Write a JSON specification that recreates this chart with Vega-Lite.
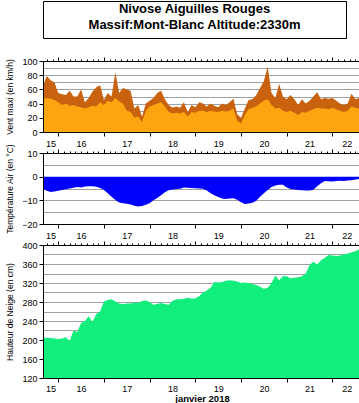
{
  "$schema": "https://vega.github.io/schema/vega-lite/v6.json",
  "background": "white",
  "padding": {"left": 5, "top": 0, "right": 0, "bottom": 0},
  "config": {
    "font": "Liberation Sans",
    "view": {"stroke": null},
    "axis": {
      "labelFont": "Liberation Sans", "labelFontSize": 9, "labelColor": "#000",
      "titleFont": "Liberation Sans", "titleFontSize": 8.5, "titleFontWeight": "normal", "titleColor": "#000",
      "domainColor": "#000", "tickColor": "#000", "gridColor": "#a0a0a0", "gridWidth": 1
    }
  },
  "datasets": {
    "d": [
      {"t": "2018-01-15T16:00", "wx": 65, "wm": 46, "ta": -5.1, "hn": 204},
      {"t": "2018-01-15T18:00", "wx": 79, "wm": 48, "ta": -6.0, "hn": 205},
      {"t": "2018-01-15T20:00", "wx": 73, "wm": 47, "ta": -6.5, "hn": 204},
      {"t": "2018-01-15T22:00", "wx": 70, "wm": 45, "ta": -6.3, "hn": 203},
      {"t": "2018-01-16T00:00", "wx": 55, "wm": 42, "ta": -6.0, "hn": 202},
      {"t": "2018-01-16T02:00", "wx": 53, "wm": 38, "ta": -5.6, "hn": 203},
      {"t": "2018-01-16T04:00", "wx": 52, "wm": 40, "ta": -5.3, "hn": 206},
      {"t": "2018-01-16T06:00", "wx": 58, "wm": 37, "ta": -5.0, "hn": 198},
      {"t": "2018-01-16T08:00", "wx": 50, "wm": 38, "ta": -4.7, "hn": 220},
      {"t": "2018-01-16T10:00", "wx": 50, "wm": 36, "ta": -4.4, "hn": 217},
      {"t": "2018-01-16T12:00", "wx": 60, "wm": 35, "ta": -4.6, "hn": 236},
      {"t": "2018-01-16T14:00", "wx": 42, "wm": 33, "ta": -4.2, "hn": 240},
      {"t": "2018-01-16T16:00", "wx": 48, "wm": 35, "ta": -4.0, "hn": 250},
      {"t": "2018-01-16T18:00", "wx": 57, "wm": 37, "ta": -4.1, "hn": 238},
      {"t": "2018-01-16T20:00", "wx": 63, "wm": 36, "ta": -4.3, "hn": 255},
      {"t": "2018-01-16T22:00", "wx": 66, "wm": 42, "ta": -4.8, "hn": 260},
      {"t": "2018-01-17T00:00", "wx": 45, "wm": 38, "ta": -5.6, "hn": 281},
      {"t": "2018-01-17T02:00", "wx": 55, "wm": 44, "ta": -7.0, "hn": 284},
      {"t": "2018-01-17T04:00", "wx": 50, "wm": 42, "ta": -8.5, "hn": 286},
      {"t": "2018-01-17T06:00", "wx": 84, "wm": 48, "ta": -9.9, "hn": 281},
      {"t": "2018-01-17T08:00", "wx": 55, "wm": 43, "ta": -10.9, "hn": 277},
      {"t": "2018-01-17T10:00", "wx": 62, "wm": 40, "ta": -11.2, "hn": 276},
      {"t": "2018-01-17T12:00", "wx": 60, "wm": 30, "ta": -11.4, "hn": 277},
      {"t": "2018-01-17T14:00", "wx": 58, "wm": 28, "ta": -11.8, "hn": 277},
      {"t": "2018-01-17T16:00", "wx": 33, "wm": 20, "ta": -12.3, "hn": 279},
      {"t": "2018-01-17T18:00", "wx": 38, "wm": 22, "ta": -12.6, "hn": 278},
      {"t": "2018-01-17T20:00", "wx": 22, "wm": 14, "ta": -12.4, "hn": 282},
      {"t": "2018-01-17T22:00", "wx": 40, "wm": 30, "ta": -11.9, "hn": 283},
      {"t": "2018-01-18T00:00", "wx": 44, "wm": 36, "ta": -11.2, "hn": 280},
      {"t": "2018-01-18T02:00", "wx": 48, "wm": 38, "ta": -10.0, "hn": 274},
      {"t": "2018-01-18T04:00", "wx": 55, "wm": 40, "ta": -9.0, "hn": 276},
      {"t": "2018-01-18T06:00", "wx": 58, "wm": 42, "ta": -7.8, "hn": 278},
      {"t": "2018-01-18T08:00", "wx": 46, "wm": 36, "ta": -6.6, "hn": 276},
      {"t": "2018-01-18T10:00", "wx": 38, "wm": 28, "ta": -5.7, "hn": 274},
      {"t": "2018-01-18T12:00", "wx": 34, "wm": 26, "ta": -5.4, "hn": 282},
      {"t": "2018-01-18T14:00", "wx": 36, "wm": 27, "ta": -5.2, "hn": 286},
      {"t": "2018-01-18T16:00", "wx": 34, "wm": 26, "ta": -5.1, "hn": 286},
      {"t": "2018-01-18T18:00", "wx": 42, "wm": 28, "ta": -4.6, "hn": 287},
      {"t": "2018-01-18T20:00", "wx": 28, "wm": 22, "ta": -4.7, "hn": 289},
      {"t": "2018-01-18T22:00", "wx": 38, "wm": 28, "ta": -4.8, "hn": 287},
      {"t": "2018-01-19T00:00", "wx": 35, "wm": 27, "ta": -4.9, "hn": 288},
      {"t": "2018-01-19T02:00", "wx": 42, "wm": 30, "ta": -5.0, "hn": 292},
      {"t": "2018-01-19T04:00", "wx": 40, "wm": 30, "ta": -5.1, "hn": 300},
      {"t": "2018-01-19T06:00", "wx": 36, "wm": 28, "ta": -5.8, "hn": 304},
      {"t": "2018-01-19T08:00", "wx": 40, "wm": 30, "ta": -7.0, "hn": 310},
      {"t": "2018-01-19T10:00", "wx": 37, "wm": 29, "ta": -7.9, "hn": 322},
      {"t": "2018-01-19T12:00", "wx": 35, "wm": 28, "ta": -8.6, "hn": 321},
      {"t": "2018-01-19T14:00", "wx": 40, "wm": 30, "ta": -9.2, "hn": 322},
      {"t": "2018-01-19T16:00", "wx": 38, "wm": 29, "ta": -9.4, "hn": 325},
      {"t": "2018-01-19T18:00", "wx": 42, "wm": 30, "ta": -9.2, "hn": 326},
      {"t": "2018-01-19T20:00", "wx": 47, "wm": 33, "ta": -9.1, "hn": 325},
      {"t": "2018-01-19T22:00", "wx": 25, "wm": 16, "ta": -9.8, "hn": 323},
      {"t": "2018-01-20T00:00", "wx": 20, "wm": 12, "ta": -10.8, "hn": 320},
      {"t": "2018-01-20T02:00", "wx": 33, "wm": 24, "ta": -11.5, "hn": 321},
      {"t": "2018-01-20T04:00", "wx": 45, "wm": 32, "ta": -11.3, "hn": 320},
      {"t": "2018-01-20T06:00", "wx": 46, "wm": 34, "ta": -11.0, "hn": 318},
      {"t": "2018-01-20T08:00", "wx": 52, "wm": 36, "ta": -10.2, "hn": 316},
      {"t": "2018-01-20T10:00", "wx": 62, "wm": 40, "ta": -8.5, "hn": 312},
      {"t": "2018-01-20T12:00", "wx": 72, "wm": 44, "ta": -7.0, "hn": 308},
      {"t": "2018-01-20T14:00", "wx": 92, "wm": 46, "ta": -5.6, "hn": 310},
      {"t": "2018-01-20T16:00", "wx": 55, "wm": 38, "ta": -4.4, "hn": 320},
      {"t": "2018-01-20T18:00", "wx": 48, "wm": 33, "ta": -3.7, "hn": 336},
      {"t": "2018-01-20T20:00", "wx": 68, "wm": 34, "ta": -3.4, "hn": 326},
      {"t": "2018-01-20T22:00", "wx": 50, "wm": 30, "ta": -3.4, "hn": 334},
      {"t": "2018-01-21T00:00", "wx": 46, "wm": 28, "ta": -4.6, "hn": 334},
      {"t": "2018-01-21T02:00", "wx": 52, "wm": 30, "ta": -5.2, "hn": 330},
      {"t": "2018-01-21T04:00", "wx": 46, "wm": 27, "ta": -5.4, "hn": 331},
      {"t": "2018-01-21T06:00", "wx": 38, "wm": 24, "ta": -5.6, "hn": 332},
      {"t": "2018-01-21T08:00", "wx": 46, "wm": 28, "ta": -5.7, "hn": 334},
      {"t": "2018-01-21T10:00", "wx": 40, "wm": 27, "ta": -5.8, "hn": 340},
      {"t": "2018-01-21T12:00", "wx": 44, "wm": 30, "ta": -5.8, "hn": 358},
      {"t": "2018-01-21T14:00", "wx": 50, "wm": 32, "ta": -5.5, "hn": 365},
      {"t": "2018-01-21T16:00", "wx": 56, "wm": 34, "ta": -4.0, "hn": 359},
      {"t": "2018-01-21T18:00", "wx": 46, "wm": 33, "ta": -2.8, "hn": 368},
      {"t": "2018-01-21T20:00", "wx": 48, "wm": 33, "ta": -1.8, "hn": 373},
      {"t": "2018-01-21T22:00", "wx": 47, "wm": 32, "ta": -1.9, "hn": 379},
      {"t": "2018-01-22T00:00", "wx": 48, "wm": 34, "ta": -2.0, "hn": 378},
      {"t": "2018-01-22T02:00", "wx": 44, "wm": 32, "ta": -1.8, "hn": 377},
      {"t": "2018-01-22T04:00", "wx": 40, "wm": 30, "ta": -1.7, "hn": 378},
      {"t": "2018-01-22T06:00", "wx": 38, "wm": 28, "ta": -1.8, "hn": 380},
      {"t": "2018-01-22T08:00", "wx": 40, "wm": 30, "ta": -1.6, "hn": 382},
      {"t": "2018-01-22T10:00", "wx": 54, "wm": 36, "ta": -1.5, "hn": 384},
      {"t": "2018-01-22T12:00", "wx": 46, "wm": 34, "ta": -1.2, "hn": 387},
      {"t": "2018-01-22T14:00", "wx": 48, "wm": 33, "ta": -1.0, "hn": 391},
      {"t": "2018-01-22T16:00", "wx": 47, "wm": 33, "ta": -1.0, "hn": 393}
    ]
  },
  "spacing": 17,
  "vconcat": [
    {
      "width": 303,
      "height": 37,
      "view": {"stroke": "#000", "strokeWidth": 1},
      "data": {"values": [
        {"k": 1, "line": "Nivose Aiguilles Rouges"},
        {"k": 2, "line": "Massif:Mont-Blanc Altitude:2330m"}
      ]},
      "mark": {"type": "text", "font": "Liberation Sans", "fontSize": 13, "fontWeight": "bold", "color": "#000", "dy": -2.5},
      "encoding": {
        "y": {"field": "k", "type": "ordinal", "axis": null, "scale": {"padding": 0.62}},
        "text": {"field": "line"}
      }
    },
    {
      "spacing": 21,
      "bounds": "flush",
      "vconcat": [
        {
          "width": 318,
          "height": 71,
          "data": {"name": "d"},
          "resolve": {"axis": {"x": "independent", "y": "independent"}},
          "layer": [
            {
              "mark": {"type": "area", "color": "#C8620E", "clip": true},
              "encoding": {
                "x": {"field": "t", "type": "temporal",
                  "scale": {"domain": [{"year": 2018, "month": 1, "date": 15, "hours": 16}, {"year": 2018, "month": 1, "date": 22, "hours": 15}]},
                  "axis": {"orient": "bottom", "values": [
                    {"year": 2018, "month": 1, "date": 15, "hours": 20},
                    {"year": 2018, "month": 1, "date": 16, "hours": 12},
                    {"year": 2018, "month": 1, "date": 17, "hours": 12},
                    {"year": 2018, "month": 1, "date": 18, "hours": 12},
                    {"year": 2018, "month": 1, "date": 19, "hours": 12},
                    {"year": 2018, "month": 1, "date": 20, "hours": 12},
                    {"year": 2018, "month": 1, "date": 21, "hours": 12},
                    {"year": 2018, "month": 1, "date": 22, "hours": 7, "minutes": 30}],
                    "format": "%d", "ticks": false, "tickSize": 0, "domain": false, "grid": false, "labelPadding": 7.5,
                    "labelOverlap": false, "labelFlush": false, "labelBound": false, "title": null, "zindex": 1}},
                "y": {"field": "wx", "type": "quantitative", "scale": {"domain": [0, 100], "nice": false},
                  "axis": {"orient": "left", "title": "Vent maxi (en km/h)", "values": [0, 20, 40, 60, 80, 100], "grid": false,
                    "tickSize": 4, "labelPadding": 2, "minExtent": 24, "maxExtent": 24, "titlePadding": 5, "zindex": 1}}
              }
            },
            {
              "mark": {"type": "area", "color": "#FCA510", "clip": true},
              "encoding": {
                "x": {"field": "t", "type": "temporal", "axis": null},
                "y": {"field": "wm", "type": "quantitative", "axis": null}
              }
            },
            {
              "mark": {"type": "line", "opacity": 0, "clip": true},
              "encoding": {
                "x": {"field": "t", "type": "temporal",
                  "axis": {"orient": "top", "tickCount": 56, "labels": false, "domain": true, "grid": false, "tickSize": 2, "title": null, "zindex": 1}},
                "y": {"field": "wm", "type": "quantitative",
                  "axis": {"orient": "left", "values": [10, 20, 30, 40, 50, 60, 70, 80, 90], "grid": true, "labels": false, "ticks": false, "domain": false, "title": null, "zindex": 0}}
              }
            },
            {
              "mark": {"type": "line", "opacity": 0, "clip": true},
              "encoding": {
                "x": {"field": "t", "type": "temporal",
                  "axis": {"orient": "top", "tickCount": 7, "labels": false, "domain": false, "grid": false, "tickSize": 4, "title": null, "zindex": 1}},
                "y": {"field": "wm", "type": "quantitative", "axis": null}
              }
            },
            {
              "mark": {"type": "line", "opacity": 0, "clip": true},
              "encoding": {
                "x": {"field": "t", "type": "temporal",
                  "axis": {"orient": "bottom", "tickCount": 7, "labels": false, "domain": true, "grid": false, "tickSize": 4, "title": null, "zindex": 1}},
                "y": {"field": "wm", "type": "quantitative", "axis": null}
              }
            }
          ]
        },
        {
          "width": 318,
          "height": 71,
          "data": {"name": "d"},
          "resolve": {"axis": {"x": "independent", "y": "independent"}},
          "layer": [
            {
              "mark": {"type": "area", "color": "#0000FF", "clip": true},
              "encoding": {
                "x": {"field": "t", "type": "temporal",
                  "scale": {"domain": [{"year": 2018, "month": 1, "date": 15, "hours": 16}, {"year": 2018, "month": 1, "date": 22, "hours": 15}]},
                  "axis": {"orient": "bottom", "values": [
                    {"year": 2018, "month": 1, "date": 15, "hours": 20},
                    {"year": 2018, "month": 1, "date": 16, "hours": 12},
                    {"year": 2018, "month": 1, "date": 17, "hours": 12},
                    {"year": 2018, "month": 1, "date": 18, "hours": 12},
                    {"year": 2018, "month": 1, "date": 19, "hours": 12},
                    {"year": 2018, "month": 1, "date": 20, "hours": 12},
                    {"year": 2018, "month": 1, "date": 21, "hours": 12},
                    {"year": 2018, "month": 1, "date": 22, "hours": 7, "minutes": 30}],
                    "format": "%d", "ticks": false, "tickSize": 0, "domain": false, "grid": false, "labelPadding": 7.5,
                    "labelOverlap": false, "labelFlush": false, "labelBound": false, "title": null, "zindex": 1}},
                "y": {"field": "ta", "type": "quantitative", "scale": {"domain": [-20, 10], "nice": false},
                  "axis": {"orient": "left", "title": "Température Air (en °C)", "values": [-20, -10, 0, 10], "grid": false,
                    "tickSize": 4, "labelPadding": 2, "minExtent": 24, "maxExtent": 24, "titlePadding": 5, "zindex": 1}},
                "y2": {"datum": 0}
              }
            },
            {
              "mark": {"type": "line", "opacity": 0, "clip": true},
              "encoding": {
                "x": {"field": "t", "type": "temporal",
                  "axis": {"orient": "top", "tickCount": 56, "labels": false, "domain": true, "grid": false, "tickSize": 2, "title": null, "zindex": 1}},
                "y": {"field": "ta", "type": "quantitative",
                  "axis": {"orient": "left", "values": [-15, -10, -5, 0, 5], "grid": true, "labels": false, "ticks": false, "domain": false, "title": null, "zindex": 0}}
              }
            },
            {
              "mark": {"type": "line", "opacity": 0, "clip": true},
              "encoding": {
                "x": {"field": "t", "type": "temporal",
                  "axis": {"orient": "top", "tickCount": 7, "labels": false, "domain": false, "grid": false, "tickSize": 4, "title": null, "zindex": 1}},
                "y": {"field": "ta", "type": "quantitative", "axis": null}
              }
            },
            {
              "mark": {"type": "line", "opacity": 0, "clip": true},
              "encoding": {
                "x": {"field": "t", "type": "temporal",
                  "axis": {"orient": "bottom", "tickCount": 7, "labels": false, "domain": true, "grid": false, "tickSize": 4, "title": null, "zindex": 1}},
                "y": {"field": "ta", "type": "quantitative", "axis": null}
              }
            }
          ]
        },
        {
          "width": 318,
          "height": 133,
          "data": {"name": "d"},
          "resolve": {"axis": {"x": "independent", "y": "independent"}},
          "layer": [
            {
              "mark": {"type": "area", "color": "#12EE7C", "clip": true},
              "encoding": {
                "x": {"field": "t", "type": "temporal",
                  "scale": {"domain": [{"year": 2018, "month": 1, "date": 15, "hours": 16}, {"year": 2018, "month": 1, "date": 22, "hours": 15}]},
                  "axis": {"orient": "bottom", "values": [
                    {"year": 2018, "month": 1, "date": 15, "hours": 20},
                    {"year": 2018, "month": 1, "date": 16, "hours": 12},
                    {"year": 2018, "month": 1, "date": 17, "hours": 12},
                    {"year": 2018, "month": 1, "date": 18, "hours": 12},
                    {"year": 2018, "month": 1, "date": 19, "hours": 12},
                    {"year": 2018, "month": 1, "date": 20, "hours": 12},
                    {"year": 2018, "month": 1, "date": 21, "hours": 12},
                    {"year": 2018, "month": 1, "date": 22, "hours": 7, "minutes": 30}],
                    "format": "%d", "ticks": false, "tickSize": 0, "domain": false, "grid": false, "labelPadding": 6.5,
                    "labelOverlap": false, "labelFlush": false, "labelBound": false,
                    "title": "janvier 2018", "titleFontWeight": "bold", "titleFontSize": 9.5, "titlePadding": 0, "zindex": 1}},
                "y": {"field": "hn", "type": "quantitative", "scale": {"domain": [120, 400], "nice": false, "zero": false},
                  "axis": {"orient": "left", "title": "Hauteur de Neige (en cm)", "values": [120, 160, 200, 240, 280, 320, 360, 400], "grid": false,
                    "tickSize": 4, "labelPadding": 2, "minExtent": 24, "maxExtent": 24, "titlePadding": 5, "zindex": 1}},
                "y2": {"datum": 120}
              }
            },
            {
              "mark": {"type": "line", "opacity": 0, "clip": true},
              "encoding": {
                "x": {"field": "t", "type": "temporal",
                  "axis": {"orient": "top", "tickCount": 56, "labels": false, "domain": true, "grid": false, "tickSize": 2, "title": null, "zindex": 1}},
                "y": {"field": "hn", "type": "quantitative",
                  "axis": {"orient": "left", "values": [140, 160, 180, 200, 220, 240, 260, 280, 300, 320, 340, 360, 380], "grid": true, "labels": false, "ticks": false, "domain": false, "title": null, "zindex": 0}}
              }
            },
            {
              "mark": {"type": "line", "opacity": 0, "clip": true},
              "encoding": {
                "x": {"field": "t", "type": "temporal",
                  "axis": {"orient": "top", "tickCount": 7, "labels": false, "domain": false, "grid": false, "tickSize": 4, "title": null, "zindex": 1}},
                "y": {"field": "hn", "type": "quantitative", "axis": null}
              }
            },
            {
              "mark": {"type": "line", "opacity": 0, "clip": true},
              "encoding": {
                "x": {"field": "t", "type": "temporal",
                  "axis": {"orient": "bottom", "tickCount": 7, "labels": false, "domain": true, "grid": false, "tickSize": 4, "title": null, "zindex": 1}},
                "y": {"field": "hn", "type": "quantitative", "axis": null}
              }
            }
          ]
        }
      ]
    }
  ]
}
